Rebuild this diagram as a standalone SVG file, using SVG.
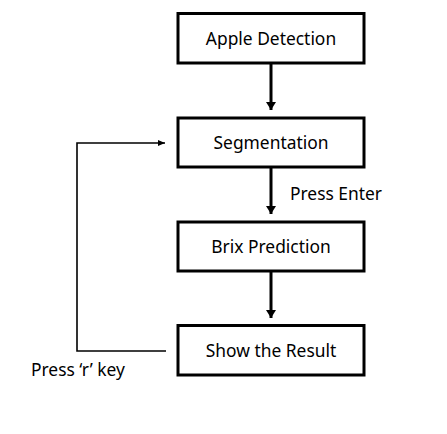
<svg xmlns="http://www.w3.org/2000/svg" width="447" height="434" viewBox="0 0 447 434">
<style>
.box{fill:#fff;stroke:#000;stroke-width:3}
.t{font-family:"Noto Sans","Open Sans",sans-serif;font-size:17.4px;fill:#000}
.c{text-anchor:middle}
.thick{stroke:#000;stroke-width:3;fill:none}
.thin{stroke:#000;stroke-width:1.6;fill:none}
</style>
<defs>
<marker id="ah" markerWidth="10" markerHeight="10" refX="8" refY="5" orient="auto" markerUnits="userSpaceOnUse">
<path d="M0,0 L8,5 L0,10 Z" fill="#000"/>
</marker>
<marker id="as" markerWidth="8" markerHeight="8" refX="7" refY="4" orient="auto" markerUnits="userSpaceOnUse">
<path d="M0,1 L7,4 L0,7 Z" fill="#000"/>
</marker>
</defs>
<rect width="447" height="434" fill="#fff"/>
<g id="connectors">
<line class="thick" x1="271" y1="64" x2="271" y2="110" marker-end="url(#ah)"/>
<line class="thick" x1="271" y1="168" x2="271" y2="214" marker-end="url(#ah)"/>
<line class="thick" x1="271" y1="272" x2="271" y2="318" marker-end="url(#ah)"/>
<polyline class="thin" points="166,351 77,351 77,143 165,143" marker-end="url(#as)"/>
<text class="t" x="290" y="200">Press Enter</text>
<text class="t" x="31" y="376">Press ‘r’ key</text>
</g>
<g id="apple-detection">
<rect class="box" x="178" y="13.5" width="186" height="49.5"/>
<text class="t c" x="271" y="45">Apple Detection</text>
</g>
<g id="segmentation">
<rect class="box" x="178" y="118" width="186" height="49"/>
<text class="t c" x="271" y="149">Segmentation</text>
</g>
<g id="brix-prediction">
<rect class="box" x="178" y="222" width="186" height="49"/>
<text class="t c" x="271" y="253">Brix Prediction</text>
</g>
<g id="show-result">
<rect class="box" x="178" y="325.5" width="186" height="49.5"/>
<text class="t c" x="271" y="357">Show the Result</text>
</g>
</svg>
